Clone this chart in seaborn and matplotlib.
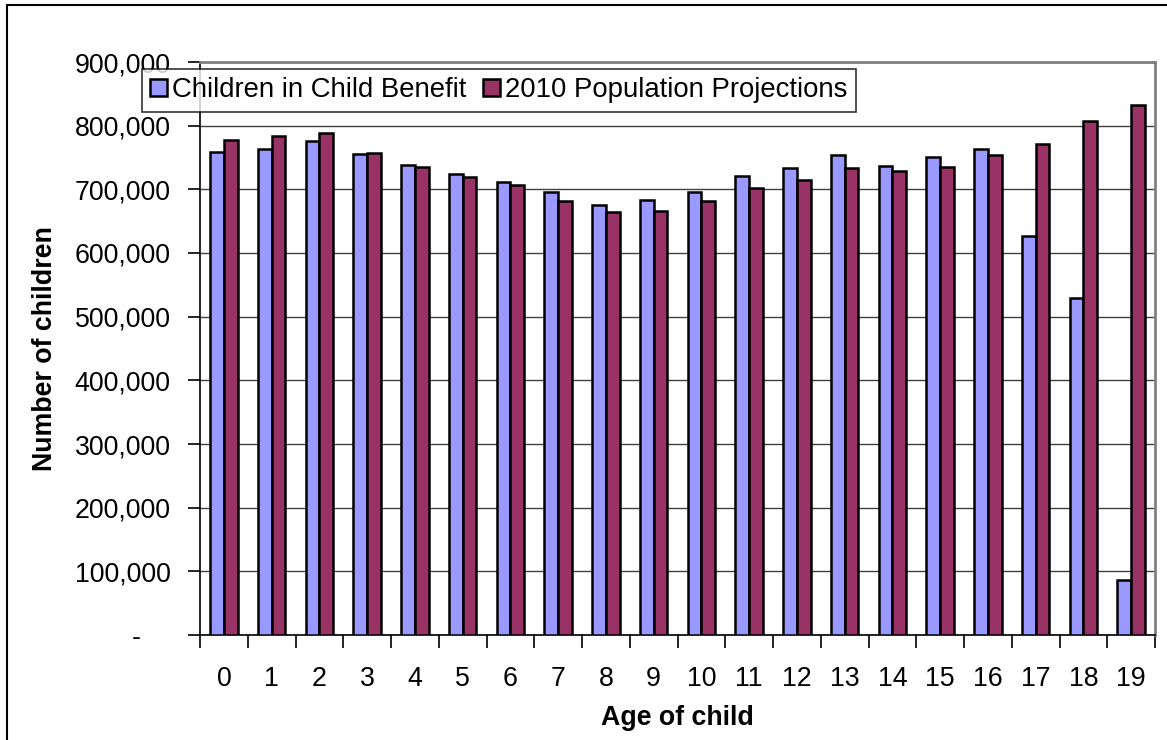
import matplotlib
matplotlib.use("Agg")
import matplotlib.pyplot as plt
import matplotlib.ticker as mticker
from matplotlib.lines import Line2D
import numpy as np
import pandas as pd
import seaborn as sns

# Number of children by single year of age
ages = [str(a) for a in range(20)]
child_benefit = [758700, 763000, 776000, 755600, 737800, 724800, 711100, 695400,
                 675500, 682900, 695400, 720600, 733100, 753500, 737400, 751500,
                 764000, 627400, 530100, 86300]
projections = [777000, 783400, 788600, 757200, 734700, 719000, 707000, 682400,
               664000, 666100, 682000, 702200, 714300, 733600, 728900, 734700,
               754000, 771900, 808000, 833100]
series_names = ["Children in Child Benefit", "2010 Population Projections"]
series_colors = ["#9999FF", "#993366"]
y_ticks = list(range(0, 900001, 100000))

df = pd.DataFrame({
    "age": ages * 2,
    "count": child_benefit + projections,
    "series": [series_names[0]] * len(ages) + [series_names[1]] * len(ages),
})

sns.set_theme(style="white")
plt.rcParams["font.family"] = ["Liberation Sans", "DejaVu Sans"]
plt.rcParams["text.color"] = "black"
plt.rcParams["axes.labelcolor"] = "black"
plt.rcParams["xtick.color"] = "black"
plt.rcParams["ytick.color"] = "black"

FS = 19.3
W, H = 1167, 740
fig = plt.figure(figsize=(W / 100, H / 100), dpi=100)
ax = fig.add_axes([200 / W, (H - 635) / H, 955 / W, 573 / H])

sns.barplot(data=df, x="age", y="count", hue="series", order=ages,
            hue_order=series_names, palette=series_colors, width=0.58,
            edgecolor="black", linewidth=1.8, saturation=1, ax=ax, zorder=3)

ax.set_xlim(-0.5, len(ages) - 0.5)
ax.set_ylim(0, 900000)
ax.set_yticks(y_ticks)
ax.yaxis.set_major_formatter(mticker.FuncFormatter(
    lambda v, p: "-    " if v == 0 else f"{int(v):,}"))
ax.grid(axis="y", color="#404040", linewidth=1.0, zorder=0)
ax.grid(axis="x", visible=False)

# tick marks sit between categories, labels at the centres
ax.set_xticks(np.arange(-0.5, len(ages), 1.0), minor=True)
ax.tick_params(axis="x", which="major", length=0, pad=22, labelsize=FS,
               labelcolor="black")
ax.tick_params(axis="x", which="minor", length=9, width=1.2, color="black",
               direction="out", bottom=True)
ax.tick_params(axis="y", which="major", length=9, width=1.2, color="black",
               direction="out", left=True, labelsize=FS, pad=12,
               labelcolor="black")

for side in ["left", "bottom"]:
    ax.spines[side].set_color("black")
    ax.spines[side].set_linewidth(1.2)
for side in ["top", "right"]:
    ax.spines[side].set_visible(True)
    ax.spines[side].set_color("#808080")
    ax.spines[side].set_linewidth(2)

ax.set_xlabel("Age of child", fontsize=FS, fontweight="bold", labelpad=10,
              color="black")
ax.set_ylabel("Number of children", fontsize=FS, fontweight="bold", labelpad=12,
              color="black")

leg = ax.legend(ncol=2, loc="upper left", bbox_to_anchor=(142 / W, (H - 69) / H),
                bbox_transform=fig.transFigure, fontsize=19.8, frameon=True,
                fancybox=False, borderpad=0.3, handlelength=0.6, handleheight=0.6,
                handletextpad=0.2, columnspacing=0.6, borderaxespad=0)
leg.get_frame().set_edgecolor("black")
leg.get_frame().set_linewidth(1.2)
for patch in leg.get_patches():
    patch.set_edgecolor("black")
    patch.set_linewidth(1.8)
for t in leg.get_texts():
    t.set_color("black")

# chart area frame
fig.add_artist(Line2D([7 / W, 7 / W], [0, (H - 5) / H], transform=fig.transFigure,
                      color="black", linewidth=1.5))
fig.add_artist(Line2D([7 / W, 1], [(H - 5) / H, (H - 5) / H], transform=fig.transFigure,
                      color="black", linewidth=1.5))

fig.savefig("out.png", dpi=100)
